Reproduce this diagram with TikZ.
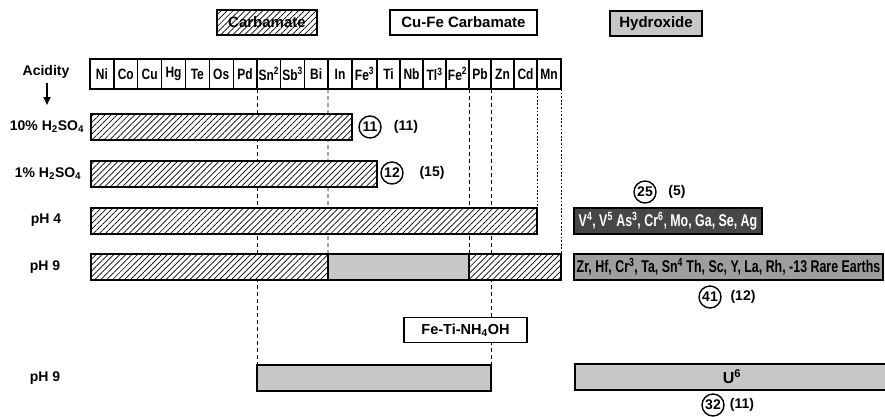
\documentclass[tikz,border=0pt]{standalone}
\usepackage{fontspec}
\setmainfont{Liberation Sans}
\newfontfamily\cond[FakeStretch=0.8]{Liberation Sans}
\newfontfamily\ucond[FakeStretch=0.73]{Liberation Sans}
\usetikzlibrary{patterns.meta,arrows.meta}
\tikzset{
  every node/.style={outer sep=0pt},
  hatch/.style={preaction={fill=white},pattern={Lines[angle=45,distance=4.2pt,line width=0.7pt]}},
  stip/.style={fill=black!22},
  barbox/.style={draw,line width=1.6pt,inner sep=0pt,anchor=north west,minimum height=26pt},
  cell/.style={draw,line width=1.2pt,inner sep=0pt,minimum height=30pt,font=\cond\bfseries\fontsize{15}{16}\selectfont},
  legend/.style={draw,line width=1.8pt,inner sep=0pt,minimum height=25pt,font=\bfseries\fontsize{15}{17}\selectfont},
  lab/.style={font=\bfseries\fontsize{14}{16}\selectfont,inner sep=0pt},
  circ/.style={draw,circle,line width=1.4pt,inner sep=0pt,minimum size=22pt,font=\bfseries\fontsize{14}{16}\selectfont},
  dl/.style={dash pattern=on 4pt off 3pt,line width=0.9pt},
  dt/.style={dash pattern=on 1.8pt off 1.8pt,line width=0.9pt}
}
\begin{document}
\begin{tikzpicture}[x=1pt,y=1pt]
\useasboundingbox (0,0) rectangle (885,-416);
% legend
\node[legend,hatch,minimum width=100pt] (lcarb) at (267,-22.5) {Carbamate};
\node[legend,fill=white,minimum width=147pt] (lcufe) at (463.5,-22.5) {Cu-Fe Carbamate};
\node[legend,stip,minimum width=92pt] (lhyd) at (656,-23.5) {Hydroxide};
% acidity
\node[lab] (acid) at (46,-72) {Acidity};
\coordinate (arrend) at (47,-105);
\draw[line width=2pt,-{Triangle[width=7pt,length=8pt]}] (acid.south -| arrend) ++(0,-4) coordinate (arrst) -- (arrend);
% element cells
\foreach \l/\r/\t [count=\i from 1] in {90/113.9/Ni,113.9/137.7/Co,137.7/161.6/Cu,161.6/185.4/Hg,185.4/209.3/Te,209.3/233.1/Os,233.1/257/Pd,257/280.7/{Sn\textsuperscript{2}},280.7/304.3/{Sb\textsuperscript{3}},304.3/328/Bi,328/352/In,352/377/{Fe\textsuperscript{3}},377/400/Ti,400/423/Nb,423/446/{Tl\textsuperscript{3}},446/469/{Fe\textsuperscript{2}},469/491/Pb,491/514/Zn,514/537/Cd,537/561/Mn}{
  \node[cell,minimum width={(\r-\l)*1pt}] (c\i) at ({(\l+\r)/2},-74) {\t};
}
% bars
\node[barbox,hatch,minimum width=261pt] (r10) at (91,-114) {};
\node[barbox,hatch,minimum width=286pt] (r1) at (91,-161) {};
\node[barbox,hatch,minimum width=446pt] (r4) at (91,-208) {};
\node[barbox,hatch,minimum width=237pt] (r9a) at (91,-254) {};
\node[barbox,stip,minimum width=141pt] (r9b) at (328,-254) {};
\node[barbox,hatch,minimum width=92pt] (r9c) at (469,-254) {};
\node[barbox,stip,minimum width=234pt] (rb) at (257,-365) {};
% dashed connectors
\draw[dl] (c7.south east) -- (rb.north west);
\draw[dl] (c10.south east) -- (r9a.north east);
\draw[dl] (c16.south east) -- (r9b.north east);
\draw[dl] (c17.south east) -- (rb.north east);
\draw[dt] (c19.south east) -- (r4.north east);
\draw[dt] (c20.south east) -- (r9c.north east);
% redraw bars on top of connectors
\node[barbox,hatch,minimum width=261pt] at (91,-114) {};
\node[barbox,hatch,minimum width=286pt] at (91,-161) {};
\node[barbox,hatch,minimum width=446pt] at (91,-208) {};
\node[barbox,hatch,minimum width=237pt] at (91,-254) {};
\node[barbox,stip,minimum width=141pt] at (328,-254) {};
\node[barbox,hatch,minimum width=92pt] at (469,-254) {};
\node[barbox,stip,minimum width=234pt] at (257,-365) {};
\node[legend,fill=white,minimum width=123pt,font=\bfseries\fontsize{14.5}{16}\selectfont] (feti) at (465.5,-330) {Fe-Ti-NH\textsubscript{4}OH};
% row labels
\node[lab] (t10) at (47,-127) {10\% H\textsubscript{2}SO\textsubscript{4}};
\node[lab] (t1) at (48,-174) {1\% H\textsubscript{2}SO\textsubscript{4}};
\node[lab] (t4) at (46,-220) {pH 4};
\node[lab] (t9) at (45,-267) {pH 9};
\node[lab] (t9b) at (45,-378) {pH 9};
% right side boxes
\node[barbox,fill=black!72,minimum width=188pt,text=white,font=\ucond\bfseries\fontsize{17}{18}\selectfont] (hv) at (574,-208) {V\textsuperscript{4}, V\textsuperscript{5} As\textsuperscript{3}, Cr\textsuperscript{6}, Mo, Ga, Se, Ag};
\node[barbox,fill=black!38,minimum width=309pt,font=\ucond\bfseries\fontsize{17}{18}\selectfont] (hz) at (574,-254) {Zr, Hf, Cr\textsuperscript{3}, Ta, Sn\textsuperscript{4} Th, Sc, Y, La, Rh, -13 Rare Earths};
\node[barbox,stip,minimum width=320pt] (hu) at (575,-364) {};
\node[lab,font=\bfseries\fontsize{16}{18}\selectfont] (u6) at (732,-377) {U\textsuperscript{6}};
% circled numbers
\node[circ] (n11) at (370,-127) {11};
\node[lab] (p11) at (406,-127) {(11)};
\node[circ] (n12) at (392,-173) {12};
\node[lab] (p15) at (432,-173) {(15)};
\node[circ] (n25) at (645,-192) {25};
\node[lab] (p5) at (677,-192) {(5)};
\node[circ] (n41) at (710,-297) {41};
\node[lab] (p12) at (743,-297) {(12)};
\node[circ] (n32) at (713,-405) {32};
\node[lab] (p11b) at (742,-405) {(11)};
\end{tikzpicture}
\end{document}
